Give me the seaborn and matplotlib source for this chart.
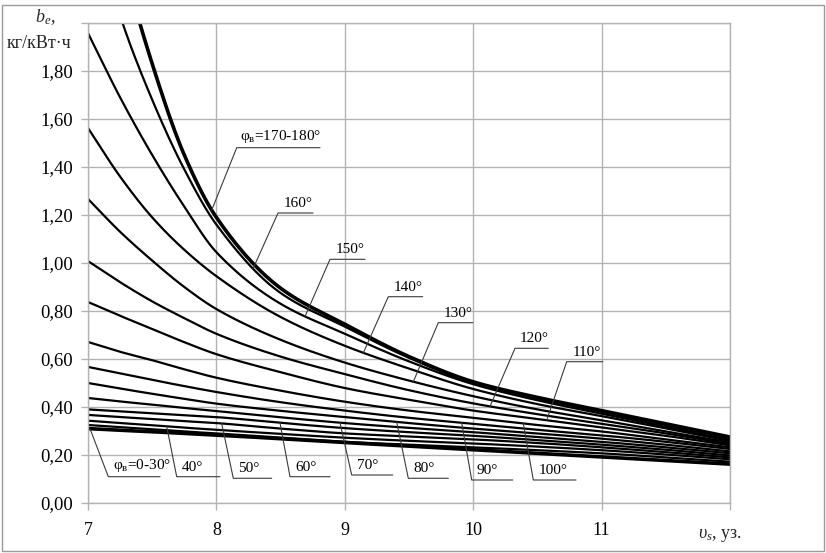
import numpy as np
import pandas as pd
import matplotlib
matplotlib.use("Agg")
import matplotlib.pyplot as plt
import seaborn as sns

# ---------------- data ----------------
speed = [7, 7.25, 7.5, 7.75, 8, 8.5, 9, 9.5, 10, 10.5, 11, 11.5, 12]

be_0_20 = [0.310, 0.303, 0.297, 0.290, 0.283, 0.268, 0.252, 0.237, 0.222, 0.207, 0.192, 0.177, 0.162]
be_30 = [0.325, 0.316, 0.307, 0.298, 0.290, 0.272, 0.255, 0.243, 0.232, 0.220, 0.207, 0.190, 0.172]
be_40 = [0.343, 0.333, 0.324, 0.314, 0.305, 0.288, 0.272, 0.259, 0.248, 0.235, 0.220, 0.202, 0.182]
be_50 = [0.367, 0.358, 0.350, 0.341, 0.333, 0.310, 0.290, 0.277, 0.265, 0.250, 0.232, 0.212, 0.190]
be_60 = [0.390, 0.382, 0.374, 0.366, 0.358, 0.334, 0.312, 0.295, 0.280, 0.262, 0.243, 0.222, 0.198]
be_70 = [0.4375, 0.423, 0.410, 0.396, 0.383, 0.357, 0.333, 0.313, 0.295, 0.275, 0.255, 0.232, 0.207]
be_80 = [0.500, 0.477, 0.455, 0.434, 0.414, 0.384, 0.358, 0.333, 0.310, 0.290, 0.268, 0.243, 0.215]
be_90 = [0.567, 0.540, 0.513, 0.487, 0.4625, 0.420, 0.385, 0.355, 0.330, 0.305, 0.282, 0.255, 0.225]
be_100 = [0.671, 0.630, 0.595, 0.557, 0.522, 0.468, 0.422, 0.385, 0.355, 0.325, 0.298, 0.265, 0.232]
be_110 = [0.8375, 0.780, 0.725, 0.670, 0.620, 0.545, 0.479, 0.430, 0.385, 0.350, 0.315, 0.280, 0.240]
be_120 = [1.008, 0.920, 0.840, 0.770, 0.705, 0.610, 0.537, 0.470, 0.415, 0.370, 0.330, 0.290, 0.246]
be_130 = [1.267, 1.130, 1.010, 0.900, 0.808, 0.680, 0.585, 0.510, 0.445, 0.390, 0.345, 0.298, 0.252]
be_140 = [1.5625, 1.360, 1.190, 1.055, 0.945, 0.775, 0.655, 0.560, 0.475, 0.412, 0.362, 0.311, 0.258]
be_150 = [1.958, 1.690, 1.450, 1.235, 1.045, 0.830, 0.705, 0.590, 0.495, 0.428, 0.372, 0.317, 0.263]
be_160 = [2.500, 2.030, 1.680, 1.390, 1.160, 0.875, 0.735, 0.605, 0.500, 0.435, 0.380, 0.325, 0.270]
be_170_180 = [2.900, 2.300, 1.830, 1.450, 1.190, 0.895, 0.745, 0.610, 0.505, 0.440, 0.385, 0.330, 0.275]

curve_names = ["0-20", "30", "40", "50", "60", "70", "80", "90", "100", "110",
               "120", "130", "140", "150", "160", "170-180"]
curve_values = [be_0_20, be_30, be_40, be_50, be_60, be_70, be_80, be_90, be_100,
                be_110, be_120, be_130, be_140, be_150, be_160, be_170_180]

x_ticks = [7, 8, 9, 10, 11, 12]
x_tick_labels = ["7", "8", "9", "10", "11", ""]
y_ticks = [0.0, 0.2, 0.4, 0.6, 0.8, 1.0, 1.2, 1.4, 1.6, 1.8, 2.0]
y_tick_labels = ["0,00", "0,20", "0,40", "0,60", "0,80", "1,00", "1,20", "1,40", "1,60", "1,80", ""]

top_labels = ["φ$_{\\mathregular{в}}$=170-180°", "160°", "150°", "140°", "130°", "120°", "110°"]
top_label_curves = ["170-180", "160", "150", "140", "130", "120", "110"]
bottom_labels = ["φ$_{\\mathregular{в}}$=0-30°", "40°", "50°", "60°", "70°", "80°", "90°", "100°"]
bottom_label_curves = ["0-20", "40", "50", "60", "70", "80", "90", "100"]

# ---------------- helpers ----------------
def pchip(x, y, xn):
    x = np.asarray(x, float); y = np.asarray(y, float)
    h = np.diff(x); d = np.diff(y) / h
    n = len(x)
    m = np.zeros(n)
    m[0], m[-1] = d[0], d[-1]
    for k in range(1, n - 1):
        if d[k - 1] * d[k] > 0:
            w1 = 2 * h[k] + h[k - 1]; w2 = h[k] + 2 * h[k - 1]
            m[k] = (w1 + w2) / (w1 / d[k - 1] + w2 / d[k])
    idx = np.clip(np.searchsorted(x, xn) - 1, 0, n - 2)
    t = (xn - x[idx]) / h[idx]
    h00 = 2 * t**3 - 3 * t**2 + 1; h10 = t**3 - 2 * t**2 + t
    h01 = -2 * t**3 + 3 * t**2; h11 = t**3 - t**2
    return h00 * y[idx] + h10 * h[idx] * m[idx] + h01 * y[idx + 1] + h11 * h[idx] * m[idx + 1]

xs = np.linspace(7, 12, 400)
rows = []
for name, vals in zip(curve_names, curve_values):
    ys = pchip(speed, vals, xs)
    rows.append(pd.DataFrame({"speed": xs, "be": ys, "curve": name}))
df = pd.concat(rows, ignore_index=True)

def curve_at(name, xv):
    i = curve_names.index(name)
    return float(pchip(speed, curve_values[i], np.array([xv]))[0])

# ---------------- style ----------------
sns.set_theme(style="whitegrid")
plt.rcParams["font.family"] = ["Liberation Serif", "DejaVu Serif"]
plt.rcParams["mathtext.fontset"] = "custom"
plt.rcParams["mathtext.rm"] = "Liberation Serif"
plt.rcParams["mathtext.it"] = "Liberation Serif:italic"

GRID = "#b3b3b3"
fig = plt.figure(figsize=(8.26, 5.53), dpi=100)
ax = fig.add_axes([88 / 826, 1 - 503 / 553, (730 - 88) / 826, (503 - 23) / 553])
ax.set_facecolor("white")

for name in curve_names:
    sub = df[df["curve"] == name]
    lw = 2.6 if name in ("0-20", "170-180") else 1.6
    sns.lineplot(data=sub, x="speed", y="be", color="black", linewidth=lw,
                 ax=ax, legend=False, sort=False, estimator=None)

ax.set_xlim(7, 12)
ax.set_ylim(0, 2.0)
ax.set_xticks(x_ticks)
ax.set_xticklabels(x_tick_labels)
ax.set_yticks(y_ticks)
ax.set_yticklabels(y_tick_labels)
ax.set_xlabel(""); ax.set_ylabel("")
ax.grid(True, color=GRID, linewidth=1.0)
for s in ax.spines.values():
    s.set_color(GRID); s.set_linewidth(1.0)
ax.tick_params(axis="both", which="both", colors=GRID, length=5, width=1.0,
               labelcolor="black", labelsize=13)
ax.tick_params(axis="y", pad=6, left=True, labelsize=13.5)
ax.tick_params(axis="x", pad=9, bottom=True)

# ---------------- annotations ----------------
def px2x(px):
    return 7 + (px - 88) / 128.4

def py2y(py):
    return (503 - py) / 240.0

LEAD = "#3a3a3a"
# top labels: (point x px, underline start px, underline end px, underline y px)
top_geom = [(211.7, 236.7, 320, 147.7), (253, 278, 313, 213), (305, 330, 365, 259.3),
            (363.3, 388.3, 422.7, 296.7), (413.3, 438.3, 472.7, 322.7),
            (490, 515, 548.3, 348.3), (546.7, 566.7, 602.7, 361.7)]
for lab, cname, (pxp, u0, u1, uy) in zip(top_labels, top_label_curves, top_geom):
    xp = px2x(pxp); yp = curve_at(cname, xp)
    ax.plot([xp, px2x(u0), px2x(u1)], [yp, py2y(uy), py2y(uy)], color=LEAD,
            lw=0.8, clip_on=False, zorder=5)
    ax.text((px2x(u0) + px2x(u1)) / 2 + 0.02, py2y(uy) + 0.012, lab, ha="center",
            va="bottom", fontsize=11, color="black", zorder=6)

bottom_geom = [(90, 108.3, 160, 476.7), (166.7, 176.7, 220, 476.7), (221.7, 233.3, 271.7, 478.3),
               (280, 290, 330, 476.7), (340, 351.7, 392.7, 475), (396.7, 408.3, 448.3, 478.3),
               (461.7, 471.7, 512.7, 480), (523.3, 533.3, 576, 480)]
for lab, cname, (pxp, u0, u1, uy) in zip(bottom_labels, bottom_label_curves, bottom_geom):
    xp = px2x(pxp); yp = curve_at(cname, xp)
    ax.plot([xp, px2x(u0), px2x(u1)], [yp, py2y(uy), py2y(uy)], color=LEAD,
            lw=0.8, clip_on=False, zorder=5)
    ax.text(px2x(u0) + 0.04, py2y(uy) + 0.012, lab, ha="left", va="bottom",
            fontsize=11, color="black", zorder=6)

# axis titles
fig.text(45 / 826, 1 - 17 / 553, "$b_{e}$,", ha="center", va="center", fontsize=13)
fig.text(39 / 826, 1 - 43 / 553, "кг/кВт·ч", ha="center", va="center", fontsize=13)
fig.text(698 / 826, 1 - 535 / 553, "$\\upsilon_{s}$, уз.", ha="left", va="center", fontsize=13)

# outer frame
fig.patches.append(plt.Rectangle((2 / 826, 2 / 553), 822 / 826, 546 / 553,
                                 transform=fig.transFigure, fill=False,
                                 edgecolor="#9a9a9a", linewidth=1.0))

fig.savefig("out.png", dpi=100, facecolor="white")
